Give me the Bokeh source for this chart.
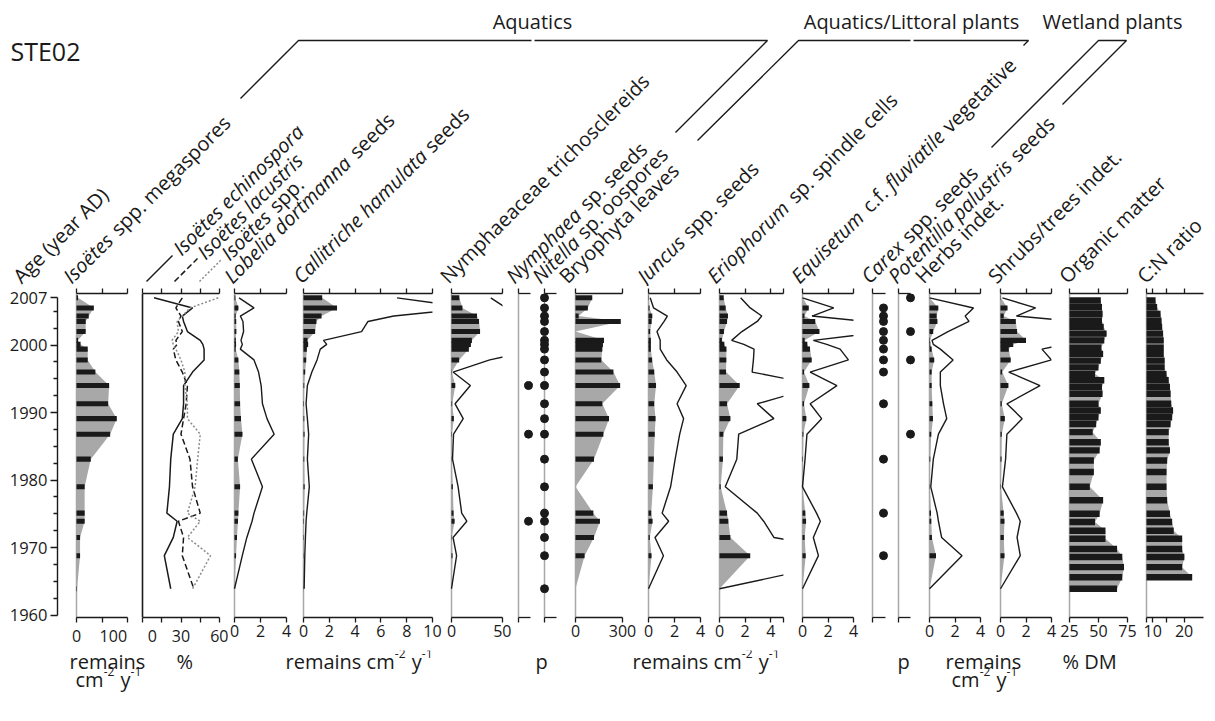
import math
from bokeh.plotting import figure
from bokeh.layouts import row, column
from bokeh.models import Range1d, LinearAxis, FixedTicker, Span, ColumnDataSource
from bokeh.core.properties import value
from bokeh.embed import file_html
from bokeh.resources import INLINE

# ---------------------------------------------------------------- data
macro_years = [2007.0, 2005.5, 2004.3, 2003.5, 2002.0, 2000.7, 2000.1, 1999.4, 1997.8, 1996.0,
               1994.0, 1991.3, 1989.1, 1986.8, 1983.1, 1979.0, 1975.1, 1973.9, 1971.5, 1968.8, 1963.9]
isoetes_megaspores = [3, 34, 24, 18, 18, 3, 8, 22, 22, 37, 64, 62, 79, 66, 28, 16, 16, 16, 7, 7, 1]
isoetes_echinospora_pct = [9, 39, 31, 32, 35, 45, 47, 48, 48, 39, 32, 32, 31, 24, 22, 21, 19, 27, 24, 17, 22]
isoetes_lacustris_pct = [31, 26, 30, 28, 31, 26, 27, 24, 26, 31, 35, 34, 32, 30, 37, 39, 45, 28, 32, 31, 40]
isoetes_spp_pct = [59, 37, 31, 27, 28, 23, 24, 26, 30, 33, 33, 35, 35, 45, 43, 41, 35, 45, 35, 53, 39]
lobelia_seeds = [0.07, 0.30, 0.09, 0.13, 0.14, 0.10, 0.12, 0.09, 0.30, 0.37, 0.41, 0.43, 0.50, 0.61, 0.26,
                 0.43, 0.30, 0.27, 0.19, 0.12, 0.0]
callitriche_seeds = [1.45, 2.6, 1.4, 1.0, 0.9, 0.31, 0.36, 0.26, 0.21, 0.13, 0.06, 0.04, 0.06, 0.08, 0.06,
                     0.09, 0.05, 0.04, 0.03, 0.02, 0.01]
nymphaeaceae_trichosclereids = [7.7, 10.7, 25, 27, 28, 20, 19, 17, 7.5, 0.3, 3.7, 0.7, 2.3, 0.4, 0.2,
                                1.3, 2.0, 3.0, 0.3, 1.0, 0]
nymphaea_seeds_present = [0, 0, 0, 0, 0, 0, 0, 0, 0, 0, 1, 0, 0, 1, 0, 0, 0, 1, 0, 0, 0]
nitella_oospores_present = [1, 1, 1, 1, 1, 1, 1, 1, 1, 1, 1, 1, 1, 1, 1, 1, 1, 1, 1, 1, 1]
bryophyta_leaves = [107, 79, 20, 289, 0, 182, 175, 171, 165, 242, 285, 171, 214, 178, 118, 0, 114, 156,
                    118, 58, 0]
juncus_seeds = [0.026, 0.078, 0.29, 0.24, 0.13, 0.18, 0.18, 0.18, 0.28, 0.44, 0.58, 0.44, 0.54, 0.48,
                0.41, 0.34, 0.21, 0.31, 0.10, 0.23, 0]
eriophorum_cells = [0.33, 0.48, 0.66, 0.59, 0.35, 0.19, 0.38, 0.54, 0.53, 0.51, 1.58, 0.59, 0.85, 0.30,
                    0.27, 0.09, 0.59, 0.69, 0.85, 2.4, 0]
equisetum_vegetative = [0, 0.49, 0.15, 1.0, 1.33, 0.17, 0.38, 0.59, 0.72, 0.12, 0.54, 0.12, 0.30, 0.07,
                        0.04, 0, 0.22, 0.28, 0.17, 0.25, 0]
carex_seeds_present = [0, 1, 1, 1, 1, 1, 0, 1, 1, 1, 0, 1, 0, 0, 1, 0, 1, 0, 0, 1, 0]
potentilla_seeds_present = [1, 0, 0, 0, 1, 0, 0, 0, 1, 0, 0, 0, 0, 1, 0, 0, 0, 0, 0, 0, 0]
herbs_indet = [0, 0.69, 0.56, 0.62, 0.29, 0.04, 0.06, 0.17, 0.37, 0.17, 0.17, 0.22, 0.27, 0.14, 0.06,
               0.02, 0.12, 0.14, 0.19, 0.51, 0]
shrubs_trees_indet = [0.03, 0.55, 0.25, 1.2, 1.3, 2.0, 1.0, 0.65, 0.8, 0.13, 0.62, 0.1, 0.34, 0.1, 0.08,
                      0.03, 0.25, 0.31, 0.26, 0.31, 0]

geo_years = [2006.6, 2005.6, 2004.6, 2003.6, 2002.7, 2001.7, 2000.7, 1999.6, 1998.7, 1997.7, 1996.7,
             1995.7, 1994.8, 1993.8, 1992.8, 1991.3, 1990.3, 1989.3, 1988.3, 1987.1, 1985.6, 1984.4,
             1982.9, 1981.2, 1979.0, 1977.0, 1975.0, 1973.8, 1972.5, 1971.3, 1969.8, 1968.6, 1967.1,
             1965.6, 1963.9]
organic_matter = [52, 53, 53.5, 53, 54.5, 57, 55, 52.5, 54, 52, 50, 47, 55, 53, 53.5, 50, 52, 50, 48, 45,
                  52, 51, 46, 46, 42.5, 54, 51, 47, 56, 56, 66, 70.5, 72, 70.5, 66]
cn_ratio = [10.9, 11.4, 12.5, 12.8, 13.0, 13.3, 13.5, 13.5, 13.5, 13.8, 13.8, 14.4, 15.1, 15.5, 15.7, 15.9,
            16.5, 16.2, 15.7, 15.1, 15.1, 15.5, 14.6, 14.4, 14.4, 14.6, 15.5, 16.2, 16.7, 19.4, 19.4, 20.1,
            19.4, 22.6]

age_ticks = [1960, 1970, 1980, 1990, 2000, 2007]
age_minor_ticks = [1962.5, 1965, 1967.5, 1972.5, 1975, 1977.5, 1982.5, 1985, 1987.5, 1992.5, 1995,
                   1997.5, 2002.5, 2005]

# ---------------------------------------------------------------- style
FONT = "Open Sans"
INK = "#1a1a1a"
GRAY = "#a8a8a8"
EXAG = 5          # exaggeration factor of the outline curves
ROW_H = 364
YR = Range1d(1959.64, 2007.64)
NB = "\u00a0"


def base_fig(fig_l, fig_r, frame_l, frame_r, x0, x1):
    p = figure(width=fig_r - fig_l, height=ROW_H, x_range=Range1d(x0, x1), y_range=YR,
               toolbar_location=None, output_backend="svg",
               x_axis_location=None, y_axis_location=None,
               min_border_left=frame_l - fig_l, min_border_right=fig_r - frame_r,
               min_border_top=7, min_border_bottom=33)
    p.outline_line_color = None
    p.grid.grid_line_color = None
    p.background_fill_color = "white"
    p.border_fill_color = "white"
    return p


def add_axes(p, ticks, bounds, overrides=None, minor=None, labels=True):
    for loc in ("above", "below"):
        ax = LinearAxis(ticker=FixedTicker(ticks=ticks, minor_ticks=minor or []), bounds=bounds)
        ax.axis_line_color = INK
        ax.axis_line_width = 1.3
        ax.major_tick_line_color = INK
        ax.major_tick_line_width = 1.3
        ax.major_tick_in = 0
        ax.major_tick_out = 5
        ax.minor_tick_line_color = INK if minor else None
        ax.minor_tick_line_width = 1.3
        ax.minor_tick_in = 0
        ax.minor_tick_out = 5
        if loc == "below" and labels:
            ax.major_label_text_font = FONT
            ax.major_label_text_font_size = "16px"
            ax.major_label_text_color = INK
            ax.major_label_standoff = 2
            if overrides:
                ax.major_label_overrides = overrides
        else:
            ax.major_label_text_color = None
            ax.major_label_text_font_size = "1px"
            ax.major_label_standoff = 0
        p.add_layout(ax, loc)


def linear_panel(fig_l, fig_r, ax_l, ax_r, a, b, ticks, overrides=None, minor=None):
    scale = (ax_r - ax_l) / (b - a)
    p = base_fig(fig_l, fig_r, ax_l - 3, ax_r, a - 3.0 / scale, b)
    add_axes(p, ticks, (a, b), overrides, minor)
    return p


def presence_panel(fig_l, fig_r, base_px, axis_len, years, present, dot_x, px_per=10.0):
    p = base_fig(fig_l, fig_r, fig_l, fig_r, -(base_px - fig_l) / px_per, (fig_r - base_px) / px_per)
    add_axes(p, [0], (0, axis_len), labels=False)
    p.add_layout(Span(location=0, dimension="height", line_color=GRAY, line_width=1.5, level="underlay"))
    ys = [y for y, f in zip(years, present) if f]
    p.scatter(x=[dot_x] * len(ys), y=ys, size=8, color=INK)
    return p


def draw_bars(p, years, vals, base, h, exag=None, baseline_color=GRAY):
    src = ColumnDataSource(dict(y=years, v=vals))
    p.add_layout(Span(location=base, dimension="height", line_color=baseline_color, line_width=1.5,
                      level="underlay"))
    p.harea(x1=base, x2="v", y="y", source=src, fill_color=GRAY)
    p.hbar(y="y", left=base, right="v", height=h, source=src, fill_color=INK, line_color=None)
    if exag:
        src.data["vx"] = [v * exag for v in vals]
        p.line(x="vx", y="y", source=src, line_color=INK, line_width=1.4)


# ---------------------------------------------------------------- age axis
age = figure(width=66, height=ROW_H, x_range=Range1d(0, 1), y_range=YR, toolbar_location=None,
             output_backend="svg", x_axis_location=None, y_axis_location=None,
             min_border_left=57, min_border_right=0, min_border_top=7, min_border_bottom=33)
age.outline_line_color = None
age.grid.grid_line_color = None
yax = LinearAxis(ticker=FixedTicker(ticks=age_ticks, minor_ticks=age_minor_ticks), bounds=(1960, 2007))
yax.axis_line_color = INK
yax.axis_line_width = 1.4
yax.major_tick_line_color = INK
yax.major_tick_line_width = 1.4
yax.major_tick_in = 0
yax.major_tick_out = 7
yax.minor_tick_line_color = INK
yax.minor_tick_line_width = 1.3
yax.minor_tick_in = 0
yax.minor_tick_out = 4
yax.major_label_text_font = FONT
yax.major_label_text_font_size = "16.5px"
yax.major_label_text_color = INK
yax.major_label_standoff = 3
age.add_layout(yax, "left")

MH = 0.75   # bar thickness (years) of macrofossil samples
GH = 0.95   # bar thickness (years) of geochemistry samples

p1 = linear_panel(66, 139, 76, 127, 0, 100, [0, 50, 100], {50: "", 100: "100" + NB * 3})
draw_bars(p1, macro_years, isoetes_megaspores, 0, MH)

p2 = linear_panel(139, 228, 142, 219, 0, 60, [0, 15, 30, 45, 60], {0: NB * 2 + "0", 15: "", 45: ""})
p2.add_layout(Span(location=0, dimension="height", line_color=INK, line_width=1.6))
p2.line(isoetes_echinospora_pct, macro_years, line_color=INK, line_width=1.5)
p2.line(isoetes_lacustris_pct, macro_years, line_color=INK, line_width=1.5, line_dash="6 3")
p2.line(isoetes_spp_pct, macro_years, line_color="#8a8a8a", line_width=1.5, line_dash="2 2")

p3 = linear_panel(228, 294, 234, 286, 0, 4, [0, 2, 4])
draw_bars(p3, macro_years, lobelia_seeds, 0, MH, EXAG)

p4 = linear_panel(294, 443, 303, 432, 0, 10, [0, 2, 4, 6, 8, 10])
draw_bars(p4, macro_years, callitriche_seeds, 0, MH, EXAG)

p5 = linear_panel(443, 511, 451, 502, 0, 50, [0, 50])
draw_bars(p5, macro_years, nymphaeaceae_trichosclereids, 0, MH, EXAG)

p6 = presence_panel(511, 539, 518, 1.2, macro_years, nymphaea_seeds_present, 1.0)
p7 = presence_panel(539, 567, 544, 1.2, macro_years, nitella_oospores_present, 0.0)

p8 = linear_panel(567, 639, 575, 622, 0, 300, [0, 300])
draw_bars(p8, macro_years, bryophyta_leaves, 0, MH)

p9 = linear_panel(639, 709, 648, 700, 0, 4, [0, 2, 4])
draw_bars(p9, macro_years, juncus_seeds, 0, MH, EXAG)

p10 = linear_panel(709, 792, 719, 783, 0, 5, [0, 2, 4, 5], {5: ""})
draw_bars(p10, macro_years, eriophorum_cells, 0, MH, EXAG)

p11 = linear_panel(792, 861, 802, 853, 0, 4, [0, 2, 4])
draw_bars(p11, macro_years, equisetum_vegetative, 0, MH, EXAG)

p12 = presence_panel(861, 892, 872, 1.3, macro_years, carex_seeds_present, 1.1)
p13 = presence_panel(892, 918, 898, 1.2, macro_years, potentilla_seeds_present, 1.2)

p14 = linear_panel(918, 990, 929, 980, 0, 4, [0, 2, 4])
draw_bars(p14, macro_years, herbs_indet, 0, MH, EXAG)

p15 = linear_panel(990, 1058, 1000, 1051, 0, 4, [0, 2, 4])
draw_bars(p15, macro_years, shrubs_trees_indet, 0, MH, EXAG)

p16 = linear_panel(1058, 1140, 1069, 1127, 25, 75, [25, 50, 75])
draw_bars(p16, geo_years, organic_matter, 25, GH)

p17 = linear_panel(1140, 1215, 1146, 1203, 8, 8 + 57 / 3.13, [10, 20], minor=[8, 14.3])
draw_bars(p17, geo_years[:len(cn_ratio)], cn_ratio, 8, GH)

panels = row(age, p1, p2, p3, p4, p5, p6, p7, p8, p9, p10, p11, p12, p13, p14, p15, p16, p17)

# ---------------------------------------------------------------- text helpers
CW = {' ': 532, '.': 545, ',': 492, ':': 545, '/': 752, '(': 586, ')': 586, '-': 659, '%': 1696,
      '0': 1171, '1': 1171, '2': 1171,
      'a': 1139, 'b': 1255, 'c': 975, 'd': 1255, 'e': 1149, 'ë': 1149, 'f': 694, 'g': 1122, 'h': 1257,
      'i': 518, 'j': 518, 'k': 1075, 'l': 518, 'm': 1905, 'n': 1257, 'o': 1237, 'p': 1255, 'q': 1255,
      'r': 836, 's': 977, 't': 723, 'u': 1257, 'v': 1026, 'w': 1593, 'x': 1073, 'y': 1028, 'z': 977,
      'A': 1296, 'B': 1327, 'C': 1292, 'D': 1493, 'E': 1139, 'F': 1057, 'H': 1511, 'I': 571, 'J': 547,
      'L': 1063, 'M': 1849, 'N': 1544, 'O': 1595, 'P': 1233, 'R': 1266, 'S': 1124, 'T': 1139}
ITALIC_BASE = 0.972
ITALIC_K = {'s': 0.93, 'e': 0.97, 'ë': 0.97, 'u': 0.98, 'm': 0.98}


def text_w(s, size, italic=False):
    tot = 0.0
    for c in s:
        w = CW.get(c, 1100)
        if italic:
            w *= ITALIC_BASE * ITALIC_K.get(c, 1.0)
        tot += w
    return tot / 2048.0 * size


# ---------------------------------------------------------------- header (rotated names, groups)
HDR_H = 286
hdr = figure(width=1215, height=HDR_H, x_range=Range1d(0, 1215), y_range=Range1d(0, HDR_H),
             toolbar_location=None, output_backend="svg", x_axis_location=None, y_axis_location=None,
             min_border=0)
hdr.outline_line_color = None
hdr.grid.grid_line_color = None

LBL_SIZE = 20
ANG = math.radians(45)
header_labels = [
    (16, 279, [("Age (year AD)", False)]),
    (66, 279, [("Isoëtes", True), (" spp. megaspores", False)]),
    (176, 251, [("Isoëtes echinospora", True)]),
    (200, 255, [("Isoëtes lacustris", True)]),
    (224, 256, [("Isoëtes", True), (" spp.", False)]),
    (227, 279, [("Lobelia dortmanna", True), (" seeds", False)]),
    (296, 279, [("Callitriche hamulata", True), (" seeds", False)]),
    (443, 279, [("Nymphaeaceae trichosclereids", False)]),
    (509, 279, [("Nymphaea", True), (" sp. seeds", False)]),
    (535, 279, [("Nitella", True), (" sp. oospores", False)]),
    (562, 279, [("Bryophyta leaves", False)]),
    (640, 279, [("Juncus", True), (" spp. seeds", False)]),
    (710, 279, [("Eriophorum", True), (" sp. spindle cells", False)]),
    (794, 279, [("Equisetum", True), (" c.f. ", False), ("fluviatile", True), (" vegetative", False)]),
    (864, 279, [("Carex", True), (" spp. seeds", False)]),
    (891, 279, [("Potentilla palustris", True), (" seeds", False)]),
    (918, 279, [("Herbs indet.", False)]),
    (991, 279, [("Shrubs/trees indet.", False)]),
    (1062, 279, [("Organic matter", False)]),
    (1140, 279, [("C:N ratio", False)]),
]
pieces = {True: dict(x=[], y=[], t=[]), False: dict(x=[], y=[], t=[])}
for x0, y0px, parts in header_labels:
    cur = 0.0
    for txt, it in parts:
        lead = len(txt) - len(txt.lstrip(" "))
        cur += lead * CW[' '] / 2048.0 * LBL_SIZE
        core = txt.strip(" ")
        pieces[it]["x"].append(x0 + cur * math.cos(ANG))
        pieces[it]["y"].append(HDR_H - y0px + cur * math.sin(ANG))
        pieces[it]["t"].append(core)
        cur += text_w(core, LBL_SIZE, it)
        trail = len(txt) - len(txt.rstrip(" "))
        cur += trail * CW[' '] / 2048.0 * LBL_SIZE
for it in (False, True):
    hdr.text(x=pieces[it]["x"], y=pieces[it]["y"], text=pieces[it]["t"], angle=ANG,
             text_font=value(FONT), text_font_size=f"{LBL_SIZE}px",
             text_font_style="italic" if it else "normal", text_color=INK,
             text_align="left", text_baseline="alphabetic")

# legend samples for the Isoëtes % lines
leg = [((146, 281), (172, 255), INK, "solid"), ((174, 281), (197, 258), INK, "6 3"),
       ((199, 281), (221, 259), "#8a8a8a", "2 2")]
for (xa, ya), (xb, yb), col, dash in leg:
    hdr.line([xa, xb], [HDR_H - ya, HDR_H - yb], line_color=col, line_width=1.5, line_dash=dash)

# group brackets
brackets = [
    [(240, 98), (298, 40), (531, 40)],
    [(534, 40), (767, 40), (675, 132)],
    [(697, 140), (798, 40), (910, 40)],
    [(913, 40), (1028, 40), (1023, 45)],
    [(991, 147), (1098, 40), (1126, 40), (1062, 104)],
]
for pts in brackets:
    hdr.line([q[0] for q in pts], [HDR_H - q[1] for q in pts], line_color=INK, line_width=1.4)

groups = [(532, "Aquatics"), (911, "Aquatics/Littoral plants"), (1112, "Wetland plants")]
hdr.text(x=[g[0] for g in groups], y=[HDR_H - 21] * len(groups), text=[g[1] for g in groups],
         text_font=value(FONT), text_font_size="20px", text_color=INK,
         text_align="center", text_baseline="middle")
hdr.text(x=[10], y=[HDR_H - 50], text=["STE02"], text_font=value(FONT), text_font_size="25px",
         text_color=INK, text_align="left", text_baseline="middle")

# ---------------------------------------------------------------- footer (units)
FT_H = 721 - HDR_H - ROW_H
ft = figure(width=1215, height=FT_H, x_range=Range1d(0, 1215), y_range=Range1d(0, FT_H),
            toolbar_location=None, output_backend="svg", x_axis_location=None, y_axis_location=None,
            min_border=0)
ft.outline_line_color = None
ft.grid.grid_line_color = None

UNIT_SIZE = 20
SUP_SIZE = 12
# (left x, baseline y in page pixels, [(text, superscript?)])
unit_labels = [
    (69, 661, [("remains", False)]),
    (75, 679, [("cm", False), ("-2", True), (" y", False), ("-1", True)]),
    (176, 661, [("%", False)]),
    (285, 661, [("remains cm", False), ("-2", True), (" y", False), ("-1", True)]),
    (535, 661, [("p", False)]),
    (632, 661, [("remains cm", False), ("-2", True), (" y", False), ("-1", True)]),
    (897, 661, [("p", False)]),
    (945, 661, [("remains", False)]),
    (951, 679, [("cm", False), ("-2", True), (" y", False), ("-1", True)]),
    (1062, 661, [("% DM", False)]),
]
norm = dict(x=[], y=[], t=[])
sup = dict(x=[], y=[], t=[])
for x0, ybase, parts in unit_labels:
    cur = 0.0
    for txt, is_sup in parts:
        size = SUP_SIZE if is_sup else UNIT_SIZE
        lead = len(txt) - len(txt.lstrip(" "))
        cur += lead * CW[' '] / 2048.0 * size
        core = txt.strip(" ")
        tgt = sup if is_sup else norm
        tgt["x"].append(x0 + cur)
        tgt["y"].append(721 - ybase + (8 if is_sup else 0))
        tgt["t"].append(core)
        cur += text_w(core, size) + (1 if is_sup else 0)
ft.text(x=norm["x"], y=norm["y"], text=norm["t"], text_font=value(FONT),
        text_font_size=f"{UNIT_SIZE}px", text_color=INK, text_align="left", text_baseline="alphabetic")
ft.text(x=sup["x"], y=sup["y"], text=sup["t"], text_font=value(FONT),
        text_font_size=f"{SUP_SIZE}px", text_color=INK, text_align="left", text_baseline="alphabetic")

layout = column(hdr, panels, ft)
open("out.html", "w").write(file_html(layout, INLINE))
